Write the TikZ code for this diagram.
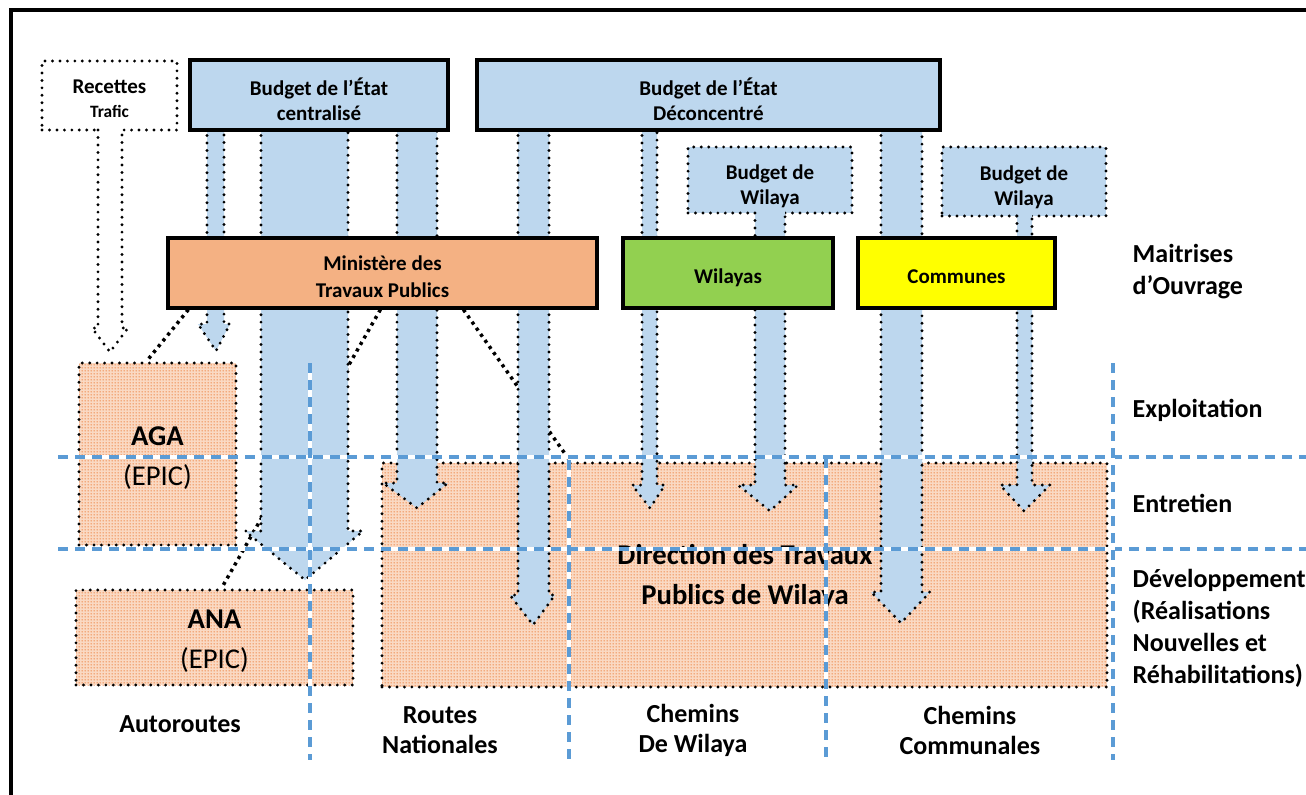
\documentclass[tikz,border=0pt]{standalone}
\usepackage{fontspec}
\setmainfont{Carlito}
\usetikzlibrary{calc,patterns.meta}
\definecolor{bfill}{HTML}{BDD7EE}
\definecolor{mtp}{HTML}{F4B183}
\definecolor{wgreen}{HTML}{92D050}
\definecolor{cyel}{HTML}{FFFF00}
\definecolor{dblue}{HTML}{5B9BD5}
\definecolor{dotor}{HTML}{EC7A36}
\definecolor{paleor}{HTML}{FAD9C3}
\pgfdeclarelayer{back}\pgfdeclarelayer{conn}\pgfdeclarelayer{arr}\pgfdeclarelayer{front}
\pgfsetlayers{back,conn,arr,main,front}
\tikzdeclarepattern{
  name=odots,
  type=uncolored,
  bottom left={(0pt,0pt)},
  top right={(2.25pt,2.25pt)},
  tile size={(2.25pt,2.25pt)},
  code={\fill (1.125pt,1.125pt) circle (0.65pt);}
}
\tikzset{
  pxsize/.style 2 args={minimum width=#1*0.75pt, minimum height=#2*0.75pt},
  boxfont/.style={font=\fontsize{15.75}{19}\selectfont\bfseries},
  tx/.style={boxfont, align=center, inner sep=0pt},
  bigtx/.style={font=\fontsize{21.5}{30}\selectfont, align=center, inner sep=0pt},
  solidbox/.style={draw=black, line width=2.4pt, inner sep=0pt},
  dotbox/.style={draw=black, line width=2.4pt, dash pattern=on 0pt off 5.6pt, line cap=round, inner sep=0pt},
  obox/.style={dotbox, preaction={fill=paleor}, pattern=odots, pattern color=dotor},
  barrow/.style={fill=bfill, draw=black, line width=2.4pt, dash pattern=on 0pt off 5.6pt, line cap=round, line join=round},
  conn/.style={draw=black, line width=2.6pt, dash pattern=on 2.4pt off 3.2pt},
  dashw/.style={white, line width=2.4pt},
  dashb/.style={dblue, line width=2.4pt, dash pattern=on 7.5pt off 5.25pt},
  lab/.style={font=\fontsize{19.5}{24}\selectfont\bfseries, align=center},
  blab/.style={font=\fontsize{19.5}{22.5}\selectfont\bfseries, align=center},
}
\begin{document}
\begin{tikzpicture}[x=0.75pt,y=-0.75pt]
\useasboundingbox (0,0) rectangle (1306,794);
\begin{scope}
  \clip (0,0) rectangle (1306,794);
  \draw[line width=3pt] (10.5,9.5) rectangle (1340,840);
\end{scope}

% ---------- back layer: operator boxes ----------
\begin{pgfonlayer}{back}
  \node[obox, pxsize={157}{182}] (aga) at (157.5,454) {};
  \node[bigtx] (agat) at ($(aga.center)+(0,4)$) {\textbf{AGA}\\(EPIC)};
  \node[obox, pxsize={277}{95}] (ana) at (214.5,637.5) {};
  \node[bigtx] (anat) at ($(ana.center)+(0,4)$) {\textbf{ANA}\\(EPIC)};
  \node[obox, pxsize={725}{224}] (dtp) at (744.5,575) {};
  \node[bigtx, font=\fontsize{21.5}{30}\selectfont\bfseries] (dtpt) at (745,577) {Direction des Travaux\\Publics de Wilaya};
\end{pgfonlayer}

% ---------- arrow layer: small source boxes and block arrows ----------
\begin{pgfonlayer}{arr}
  \node[dotbox, fill=white, pxsize={135}{69}] (rec) at (109.5,95.5) {};
  \node[tx] (rect) at ($(rec.center)+(0,3)$) {Recettes\\[-1pt]\fontsize{13}{16}\selectfont Trafic};
  \node[dotbox, fill=bfill, pxsize={164}{66}] (bw1) at (770,180) {};
  \node[tx] (bw1t) at ($(bw1.center)+(0,6)$) {Budget de\\Wilaya};
  \node[dotbox, fill=bfill, pxsize={164}{69}] (bw2) at (1024,181.5) {};
  \node[tx] (bw2t) at ($(bw2.center)+(0,6)$) {Budget de\\Wilaya};
  % Recettes arrow
  \fill[white] (98,126) rectangle (122,133);
  \filldraw[barrow, fill=white] (98,130) -- (98,328) -- (92,328) -- (110,352) -- (128,328) -- (122,328) -- (122,130);
  % from Budget centralise
  \filldraw[barrow] (207,128) -- (207,324) -- (198,324) -- (216,351) -- (230,324) -- (224,324) -- (224,128);
  \filldraw[barrow] (261,128) -- (261,531) -- (245,531) -- (305,580) -- (363,531) -- (348,531) -- (348,128);
  \filldraw[barrow] (397,128) -- (397,483) -- (383,483) -- (417,508) -- (448,483) -- (437,483) -- (437,128);
  % from Budget deconcentre
  \filldraw[barrow] (518,128) -- (518,595) -- (510,595) -- (533,625) -- (555,595) -- (549,595) -- (549,128);
  \filldraw[barrow] (642,128) -- (642,485) -- (632,485) -- (650,508) -- (665,485) -- (657,485) -- (657,128);
  \filldraw[barrow] (881,128) -- (881,592) -- (871,592) -- (901,623) -- (930,592) -- (922,592) -- (922,128);
  % from Budgets de Wilaya
  \fill[bfill] (755,209) rectangle (785,216);
  \filldraw[barrow] (755,213) -- (755,485) -- (738,485) -- (770,511) -- (798,485) -- (785,485) -- (785,213);
  \fill[bfill] (1017,212) rectangle (1032,219);
  \filldraw[barrow] (1017,216) -- (1017,485) -- (1000,485) -- (1024,511) -- (1050,485) -- (1032,485) -- (1032,216);
\end{pgfonlayer}

% ---------- main: budget and authority boxes ----------
\node[solidbox, fill=bfill, pxsize={258}{70}] (bc) at (319,95) {};
\node[tx] (bct) at ($(bc.center)+(0,4)$) {Budget de l’État\\centralisé};
\node[solidbox, fill=bfill, pxsize={463}{70}] (bd) at (708.5,95) {};
\node[tx] (bdt) at ($(bd.center)+(0,4)$) {Budget de l’État\\Déconcentré};
\node[solidbox, fill=mtp, pxsize={429}{70}] (min) at (382.5,273) {};
\node[tx, font=\fontsize{15.75}{20}\selectfont\bfseries] (mint) at ($(min.center)+(0,4)$) {Ministère des\\Travaux Publics};
\node[solidbox, fill=wgreen, pxsize={210}{70}] (wil) at (728,273) {};
\node[tx] (wilt) at ($(wil.center)+(0,5)$) {Wilayas};
\node[solidbox, fill=cyel, pxsize={197}{70}] (com) at (956.5,273) {};
\node[tx] (comt) at ($(com.center)+(0,4)$) {Communes};

% ---------- connectors (behind arrows) ----------
\begin{pgfonlayer}{conn}
  \draw[conn] ($(min.south west)+(22,0)$) -- ($(aga.north west)+(69,0)$);
  \draw[conn] ($(min.south west)+(214,0)$) -- ($(ana.north west)+(147,0)$);
  \draw[conn] ($(min.south west)+(297,0)$) -- ($(dtp.north west)+(190,0)$);
\end{pgfonlayer}

% ---------- front: dashed grid ----------
\begin{pgfonlayer}{front}
  \foreach \y in {457,549} {
    \draw[dashw] (58,\y) -- (1306,\y);
    \draw[dashb] (58,\y) -- (1306,\y);
  }
  \foreach \x/\ya in {310/363, 569/460, 826/458, 1113/363} {
    \draw[dashw] (\x,\ya) -- (\x,760);
    \draw[dashb] (\x,\ya) -- (\x,760);
  }
\end{pgfonlayer}

% ---------- labels ----------
\node[lab, anchor=west, align=left] (mo) at (1128,272) {Maitrises\\d’Ouvrage};
\node[lab, anchor=west] (ex) at (1128,410) {Exploitation};
\node[lab, anchor=west] (en) at (1128,503) {Entretien};
\node[lab, anchor=west, align=left] (dv) at (1128,628) {Développement\\(Réalisations\\Nouvelles et\\Réhabilitations)};
\node[lab] (au) at (180,724) {Autoroutes};
\node[blab] (rn) at (440,730) {Routes\\Nationales};
\node[blab] (cw) at (693,730) {Chemins\\De Wilaya};
\node[blab] (cc) at (970,730) {Chemins\\Communales};
\end{tikzpicture}
\end{document}
